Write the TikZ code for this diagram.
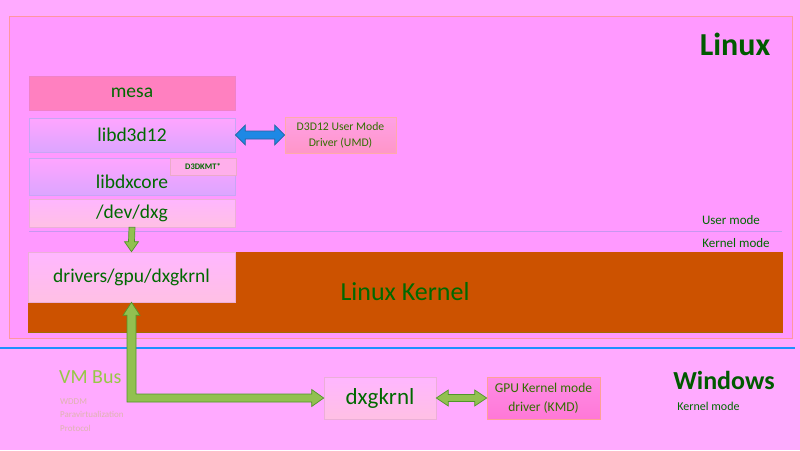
\documentclass[tikz,border=0pt]{standalone}
\usepackage{fontspec}
\setmainfont{Carlito}
\usetikzlibrary{calc}
\definecolor{bgpink}{RGB}{255,170,255}
\definecolor{linuxpink}{RGB}{255,153,255}
\definecolor{salmon}{RGB}{255,150,160}
\definecolor{kernorange}{RGB}{204,82,0}
\definecolor{kernedge}{RGB}{160,110,0}
\definecolor{sepblue}{RGB}{30,144,255}
\definecolor{modeline}{RGB}{200,150,240}
\definecolor{agreen}{RGB}{146,192,80}
\definecolor{agreenD}{RGB}{80,150,40}
\definecolor{ablue}{RGB}{30,136,229}
\definecolor{ablueD}{RGB}{40,100,160}
\definecolor{txtgreen}{RGB}{0,105,0}
\definecolor{headgreen}{RGB}{0,90,0}
\definecolor{olivetxt}{RGB}{50,110,0}
\definecolor{mesapink}{RGB}{255,128,192}
\definecolor{mesaedge}{RGB}{240,130,200}
\definecolor{libtop}{RGB}{255,165,255}
\definecolor{libbot}{RGB}{220,165,255}
\definecolor{libedge}{RGB}{200,165,245}
\definecolor{lighttop}{RGB}{255,182,255}
\definecolor{lightbot}{RGB}{255,192,228}
\definecolor{lightedge}{RGB}{235,175,215}
\definecolor{umdtop}{RGB}{255,160,230}
\definecolor{umdbot}{RGB}{255,150,200}
\definecolor{umdedge}{RGB}{255,170,170}
\definecolor{kmdtop}{RGB}{255,140,230}
\definecolor{kmdbot}{RGB}{255,120,215}
\definecolor{kmdedge}{RGB}{255,160,150}
\definecolor{kmtfill}{RGB}{255,175,235}
\definecolor{kmtedge}{RGB}{235,170,200}
\definecolor{vmgreen}{RGB}{150,200,70}
\definecolor{fainttxt}{RGB}{222,180,175}
\newcommand{\hdbl}[6]{\filldraw[#1] (#2) -- ($(#2)+(#6,-#5)$) -- ($(#2)+(#6,-#4)$) -- ($(#3)+(-#6,-#4)$) -- ($(#3)+(-#6,-#5)$) -- (#3) -- ($(#3)+(-#6,#5)$) -- ($(#3)+(-#6,#4)$) -- ($(#2)+(#6,#4)$) -- ($(#2)+(#6,#5)$) -- cycle;}
\tikzset{
  box/.style={rectangle, inner sep=0pt, text=txtgreen, line width=0.6pt,
    font=\fontsize{19.5}{20}\selectfont},
  libbox/.style={box, top color=libtop, bottom color=libbot, draw=libedge},
  lightbox/.style={box, top color=lighttop, bottom color=lightbot, draw=lightedge},
  greenarrow/.style={fill=agreen, draw=agreenD, line width=0.7pt},
  bluearrow/.style={fill=ablue, draw=ablueD, line width=0.7pt},
  modetxt/.style={text=txtgreen, font=\fontsize{13}{14}\selectfont, inner sep=0pt},
  heading/.style={text=headgreen, inner sep=0pt},
  faint/.style={text=fainttxt, font=\fontsize{9}{10}\selectfont, inner sep=0pt, anchor=west}
}
\begin{document}
\begin{tikzpicture}[x=1pt,y=-1pt]
\useasboundingbox (0,0) rectangle (800,450);
% backgrounds
\fill[bgpink] (0,0) rectangle (800,450);
\filldraw[fill=linuxpink, draw=salmon, line width=0.8pt] (9,16) rectangle (792,338);
\draw[sepblue, line width=1.5pt] (0,348) -- (795,348);
\filldraw[fill=kernorange, draw=kernorange] (28,252) rectangle (782,332);
\draw[kernedge, line width=0.8pt] (28,332) -- (782,332);
\draw[modeline, line width=0.6pt] (29,231) -- (782,231);

% headings
\node[heading, font=\bfseries\fontsize{32}{34}\selectfont] (linux) at (735,44) {Linux};
\node[heading, font=\bfseries\fontsize{26}{28}\selectfont] (windows) at (724,380) {Windows};
\node[modetxt, font=\fontsize{12}{13}\selectfont] (wkm) at (708.5,406) {Kernel mode};
\node[modetxt] (um) at (731,220.5) {User mode};
\node[modetxt] (km) at (736,243.5) {Kernel mode};
\node[text=txtgreen, font=\fontsize{26}{28}\selectfont, inner sep=0pt] (lk) at (405,292) {Linux Kernel};

% user mode stack
\node[box, fill=mesapink, draw=mesaedge, minimum width=206pt, minimum height=34pt] (mesa) at (132,93) {mesa};
\node[libbox, minimum width=206pt, minimum height=34pt] (libd) at (132,135) {libd3d12};
\node[libbox, minimum width=206pt, minimum height=37pt] (dxcore) at (132,176.5) {\raisebox{-5pt}[\height][\depth]{libdxcore}};
\node[box, fill=kmtfill, draw=kmtedge, minimum width=66pt, minimum height=17pt, font=\bfseries\fontsize{8.5}{9}\selectfont] (kmt) at (203,166.5) {D3DKMT*};
\node[lightbox, minimum width=206pt, minimum height=28pt] (dev) at (132,213) {/dev/dxg};
\node[lightbox, minimum width=207pt, minimum height=50pt] (drv) at (131.5,277) {drivers/gpu/dxgkrnl};

\node[box, top color=umdtop, bottom color=umdbot, draw=umdedge, minimum width=111pt, minimum height=36pt,
  text=olivetxt, align=center, font=\fontsize{11.7}{16}\selectfont] (umd) at (340.5,135) {D3D12 User Mode\\Driver (UMD)};

% windows side
\node[lightbox, minimum width=112pt, minimum height=42pt, font=\fontsize{23}{24}\selectfont] (dxg) at (380,398) {dxgkrnl};
\node[box, top color=kmdtop, bottom color=kmdbot, draw=kmdedge, minimum width=113pt, minimum height=42pt,
  text=olivetxt, align=center, font=\fontsize{13.5}{19}\selectfont] (kmd) at (543.5,398) {GPU Kernel mode\\driver (KMD)};

\node[text=vmgreen, font=\fontsize{20}{22}\selectfont, inner sep=0pt, anchor=west] (vmbus) at (59,377) {VM Bus};
\node[faint] (w1) at (60,402) {WDDM};
\node[faint] (w2) at (60,414.5) {Paravirtualization};
\node[faint] (w3) at (60,428) {Protocol};

% arrows
\filldraw[greenarrow] ($(dev.south)+(-3,0)$) -- ($(drv.north)+(-3,-10)$) -- ($(drv.north)+(-7,-10)$) -- (drv.north)
  -- ($(drv.north)+(7,-10)$) -- ($(drv.north)+(3,-10)$) -- ($(dev.south)+(3,0)$) -- cycle;
\filldraw[greenarrow] (drv.south) -- ($(drv.south)+(8.5,13)$) -- ($(drv.south)+(4.5,13)$)
  |- ($(dxg.west)+(-12,-4)$) -- ($(dxg.west)+(-12,-8.5)$) -- (dxg.west) -- ($(dxg.west)+(-12,8.5)$)
  -- ($(dxg.west)+(-12,4)$) -| ($(drv.south)+(-4.5,13)$) -- ($(drv.south)+(-8.5,13)$) -- cycle;
\hdbl{bluearrow}{libd.east}{umd.west}{4}{10}{10}
\hdbl{greenarrow}{dxg.east}{kmd.west}{3.5}{8}{12}
\end{tikzpicture}
\end{document}
